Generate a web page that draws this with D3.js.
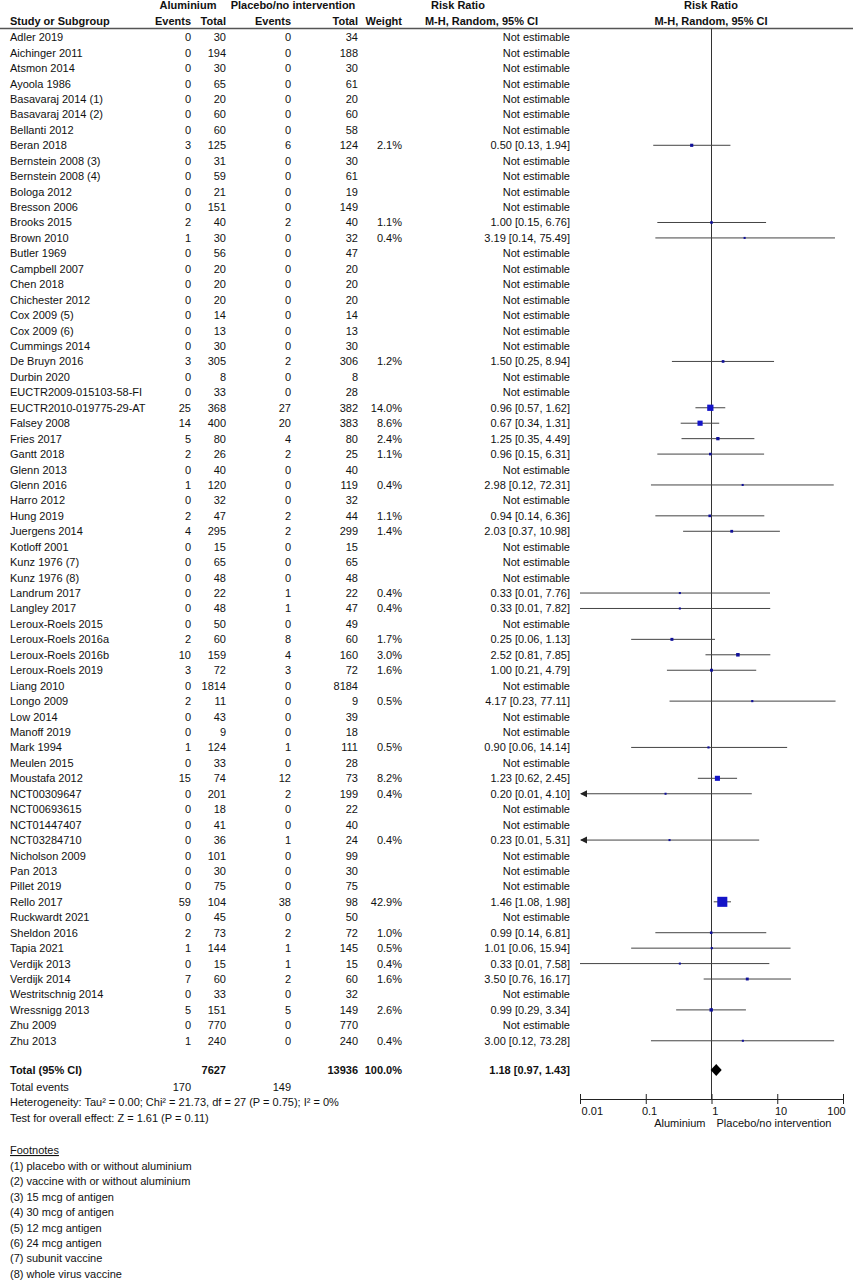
<!DOCTYPE html>
<html>
<head>
<meta charset="utf-8">
<script src="https://cdn.jsdelivr.net/npm/d3@7"></script>
<style>
  body { margin: 0; background: #fff; }
  text { font-family: "Liberation Sans", Arial, sans-serif; font-size: 11px; fill: #111; }
</style>
</head>
<body>
<div id="vis"></div>
<script>
// ----------------
// Data
// ----------------
const studies = ["Adler 2019","Aichinger 2011","Atsmon 2014","Ayoola 1986","Basavaraj 2014 (1)","Basavaraj 2014 (2)","Bellanti 2012","Beran 2018","Bernstein 2008 (3)","Bernstein 2008 (4)","Bologa 2012","Bresson 2006","Brooks 2015","Brown 2010","Butler 1969","Campbell 2007","Chen 2018","Chichester 2012","Cox 2009 (5)","Cox 2009 (6)","Cummings 2014","De Bruyn 2016","Durbin 2020","EUCTR2009-015103-58-FI","EUCTR2010-019775-29-AT","Falsey 2008","Fries 2017","Gantt 2018","Glenn 2013","Glenn 2016","Harro 2012","Hung 2019","Juergens 2014","Kotloff 2001","Kunz 1976 (7)","Kunz 1976 (8)","Landrum 2017","Langley 2017","Leroux-Roels 2015","Leroux-Roels 2016a","Leroux-Roels 2016b","Leroux-Roels 2019","Liang 2010","Longo 2009","Low 2014","Manoff 2019","Mark 1994","Meulen 2015","Moustafa 2012","NCT00309647","NCT00693615","NCT01447407","NCT03284710","Nicholson 2009","Pan 2013","Pillet 2019","Rello 2017","Ruckwardt 2021","Sheldon 2016","Tapia 2021","Verdijk 2013","Verdijk 2014","Westritschnig 2014","Wressnigg 2013","Zhu 2009","Zhu 2013"];
const alEvents = [0,0,0,0,0,0,0,3,0,0,0,0,2,1,0,0,0,0,0,0,0,3,0,0,25,14,5,2,0,1,0,2,4,0,0,0,0,0,0,2,10,3,0,2,0,0,1,0,15,0,0,0,0,0,0,0,59,0,2,1,0,7,0,5,0,1];
const alTotal  = [30,194,30,65,20,60,60,125,31,59,21,151,40,30,56,20,20,20,14,13,30,305,8,33,368,400,80,26,40,120,32,47,295,15,65,48,22,48,50,60,159,72,1814,11,43,9,124,33,74,201,18,41,36,101,30,75,104,45,73,144,15,60,33,151,770,240];
const plEvents = [0,0,0,0,0,0,0,6,0,0,0,0,2,0,0,0,0,0,0,0,0,2,0,0,27,20,4,2,0,0,0,2,2,0,0,0,1,1,0,8,4,3,0,0,0,0,1,0,12,2,0,0,1,0,0,0,38,0,2,1,1,2,0,5,0,0];
const plTotal  = [34,188,30,61,20,60,58,124,30,61,19,149,40,32,47,20,20,20,14,13,30,306,8,28,382,383,80,25,40,119,32,44,299,15,65,48,22,47,49,60,160,72,8184,9,39,18,111,28,73,199,22,40,24,99,30,75,98,50,72,145,15,60,32,149,770,240];
// weight (%), rr, lower, upper; null = not estimable
const weight = [null,null,null,null,null,null,null,2.1,null,null,null,null,1.1,0.4,null,null,null,null,null,null,null,1.2,null,null,14.0,8.6,2.4,1.1,null,0.4,null,1.1,1.4,null,null,null,0.4,0.4,null,1.7,3.0,1.6,null,0.5,null,null,0.5,null,8.2,0.4,null,null,0.4,null,null,null,42.9,null,1.0,0.5,0.4,1.6,null,2.6,null,0.4];
const rr    = [null,null,null,null,null,null,null,0.50,null,null,null,null,1.00,3.19,null,null,null,null,null,null,null,1.50,null,null,0.96,0.67,1.25,0.96,null,2.98,null,0.94,2.03,null,null,null,0.33,0.33,null,0.25,2.52,1.00,null,4.17,null,null,0.90,null,1.23,0.20,null,null,0.23,null,null,null,1.46,null,0.99,1.01,0.33,3.50,null,0.99,null,3.00];
const lower = [null,null,null,null,null,null,null,0.13,null,null,null,null,0.15,0.14,null,null,null,null,null,null,null,0.25,null,null,0.57,0.34,0.35,0.15,null,0.12,null,0.14,0.37,null,null,null,0.01,0.01,null,0.06,0.81,0.21,null,0.23,null,null,0.06,null,0.62,0.01,null,null,0.01,null,null,null,1.08,null,0.14,0.06,0.01,0.76,null,0.29,null,0.12];
const upper = [null,null,null,null,null,null,null,1.94,null,null,null,null,6.76,75.49,null,null,null,null,null,null,null,8.94,null,null,1.62,1.31,4.49,6.31,null,72.31,null,6.36,10.98,null,null,null,7.76,7.82,null,1.13,7.85,4.79,null,77.11,null,null,14.14,null,2.45,4.10,null,null,5.31,null,null,null,1.98,null,6.81,15.94,7.58,16.17,null,3.34,null,73.28];
const arrowLeft = ["NCT00309647","NCT03284710"];

const total = {label: "Total (95% CI)", alTotal: 7627, plTotal: 13936, weight: "100.0%", rr: 1.18, lower: 0.97, upper: 1.43};
const totalEvents = [170, 149];
const statLines = [
  "Heterogeneity: Tau\u00b2 = 0.00; Chi\u00b2 = 21.73, df = 27 (P = 0.75); I\u00b2 = 0%",
  "Test for overall effect: Z = 1.61 (P = 0.11)"
];
const footnotes = ["(1) placebo with or without aluminium","(2) vaccine with or without aluminium","(3) 15 mcg of antigen","(4) 30 mcg of antigen","(5) 12 mcg antigen","(6) 24 mcg antigen","(7) subunit vaccine","(8) whole virus vaccine"];
const tickValues = [0.01, 0.1, 1, 10, 100];

const rows = studies.map((s, i) => ({
  name: s, ae: alEvents[i], at: alTotal[i], pe: plEvents[i], pt: plTotal[i],
  w: weight[i], rr: rr[i], lo: lower[i], hi: upper[i]
}));

// ----------------
// Layout
// ----------------
const width = 853, height = 1280;
const svg = d3.select("#vis").append("svg").attr("width", width).attr("height", height);

const yScale = d3.scaleBand().domain(d3.range(rows.length)).range([29.5, 1048.5]);
const yMid = i => yScale(i) + yScale.bandwidth() / 2;
const xScale = d3.scaleLog().domain([0.01, 100]).range([580, 843]);
const fmt = d3.format(".2f");
const axisY = 1099;

// header
const head = svg.append("g");
head.append("text").attr("x", 188).attr("y", 9).attr("text-anchor", "middle").style("font-weight", "bold").text("Aluminium");
head.append("text").attr("x", 293).attr("y", 9).attr("text-anchor", "middle").style("font-weight", "bold").text("Placebo/no intervention");
head.append("text").attr("x", 458).attr("y", 9).attr("text-anchor", "middle").style("font-weight", "bold").text("Risk Ratio");
head.append("text").attr("x", 711).attr("y", 9).attr("text-anchor", "middle").style("font-weight", "bold").text("Risk Ratio");
[["Study or Subgroup", 10, "start"], ["Events", 191, "end"], ["Total", 226, "end"], ["Events", 291, "end"],
 ["Total", 358, "end"], ["Weight", 402, "end"], ["M-H, Random, 95% CI", 538, "end"], ["M-H, Random, 95% CI", 711, "middle"]]
  .forEach(([t, x, a]) => head.append("text").attr("x", x).attr("y", 25).attr("text-anchor", a).style("font-weight", "bold").text(t));
svg.append("line").attr("x1", 0).attr("x2", width).attr("y1", 28.5).attr("y2", 28.5).attr("stroke", "#555").attr("stroke-width", 1.5);

// table rows
const rowG = svg.selectAll("g.row").data(rows).join("g").attr("class", "row")
  .attr("transform", (d, i) => `translate(0, ${yMid(i) + 4})`);
rowG.append("text").attr("x", 10).text(d => d.name);
rowG.append("text").attr("x", 191).attr("text-anchor", "end").text(d => d.ae);
rowG.append("text").attr("x", 226).attr("text-anchor", "end").text(d => d.at);
rowG.append("text").attr("x", 291).attr("text-anchor", "end").text(d => d.pe);
rowG.append("text").attr("x", 358).attr("text-anchor", "end").text(d => d.pt);
rowG.append("text").attr("x", 402).attr("text-anchor", "end").text(d => d.w == null ? "" : d.w.toFixed(1) + "%");
rowG.append("text").attr("x", 570).attr("text-anchor", "end")
  .text(d => d.rr == null ? "Not estimable" : `${fmt(d.rr)} [${fmt(d.lo)}, ${fmt(d.hi)}]`);

// reference line
svg.append("line").attr("x1", xScale(1)).attr("x2", xScale(1)).attr("y1", 28.5).attr("y2", axisY).attr("stroke", "#333");

// CIs
const est = rows.map((d, i) => ({...d, i})).filter(d => d.rr != null);
const clampX = v => xScale(Math.max(0.01, Math.min(100, v)));
const side = d => 1.2 + Math.sqrt(d.w) * 1.35;
svg.selectAll("line.ci").data(est).join("line").attr("class", "ci")
  .attr("x1", d => arrowLeft.includes(d.name) ? xScale(0.01) + 1 : clampX(d.lo))
  .attr("x2", d => clampX(d.hi))
  .attr("y1", d => yMid(d.i)).attr("y2", d => yMid(d.i))
  .attr("stroke", "#444").attr("stroke-width", 1);
svg.selectAll("path.arrow").data(est.filter(d => arrowLeft.includes(d.name))).join("path").attr("class", "arrow")
  .attr("d", d => { const x = xScale(0.01), y = yMid(d.i); return `M${x},${y} l7,-3.5 l0,7 z`; })
  .attr("fill", "#222");
svg.selectAll("rect.sq").data(est).join("rect").attr("class", "sq")
  .attr("width", side).attr("height", side)
  .attr("x", d => xScale(d.rr) - side(d) / 2)
  .attr("y", d => yMid(d.i) - side(d) / 2)
  .attr("fill", d => d.w > 5 ? "#1414c8" : "#10109a");

// total
const totY = 1070;
const tg = svg.append("g").attr("transform", `translate(0, ${totY + 4})`);
[[total.label, 10, "start"], [total.alTotal, 226, "end"], [total.plTotal, 358, "end"], [total.weight, 402, "end"],
 [`${fmt(total.rr)} [${fmt(total.lower)}, ${fmt(total.upper)}]`, 570, "end"]]
  .forEach(([t, x, a]) => tg.append("text").attr("x", x).attr("text-anchor", a).style("font-weight", "bold").text(t));
svg.append("path")
  .attr("d", `M${xScale(total.lower)},${totY} L${xScale(total.rr)},${totY - 6} L${xScale(total.upper)},${totY} L${xScale(total.rr)},${totY + 6} Z`)
  .attr("fill", "#000");

svg.append("text").attr("x", 10).attr("y", 1091).text("Total events");
svg.append("text").attr("x", 191).attr("y", 1091).attr("text-anchor", "end").text(totalEvents[0]);
svg.append("text").attr("x", 291).attr("y", 1091).attr("text-anchor", "end").text(totalEvents[1]);
statLines.forEach((t, k) => svg.append("text").attr("x", 10).attr("y", 1106 + k * 15.5).text(t));

// axis
const axis = d3.axisBottom(xScale).tickValues(tickValues).tickSize(-5).tickPadding(4)
  .tickFormat(d => d3.format("~g")(d));
const ag = svg.append("g").attr("transform", `translate(0, ${axisY})`).call(axis);
ag.select(".domain").attr("stroke", "#222");
ag.selectAll(".tick line").attr("stroke", "#222").attr("y1", -5).attr("y2", 5);
ag.selectAll(".tick text").attr("font-size", 11).attr("font-family", null).attr("y", 8)
  .attr("text-anchor", d => d === 0.01 ? "start" : d === 100 ? "end" : "middle")
  .attr("dx", d => d === 0.01 ? "0.1em" : d === 100 ? "0.2em" : "0.3em");
svg.append("text").attr("x", xScale(1) - 6).attr("y", 1127).attr("text-anchor", "end").text("Aluminium");
svg.append("text").attr("x", xScale(1) + 5).attr("y", 1127).text("Placebo/no intervention");

// footnotes
svg.append("text").attr("x", 10).attr("y", 1154).attr("text-decoration", "underline").text("Footnotes");
footnotes.forEach((t, k) => svg.append("text").attr("x", 10).attr("y", 1170 + k * 15.4).text(t));
</script>
</body>
</html>
